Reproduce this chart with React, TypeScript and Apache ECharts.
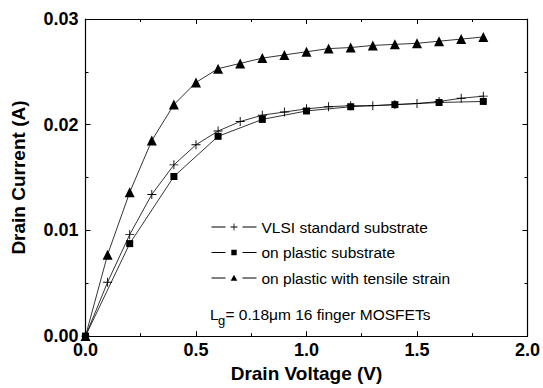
import React, { useEffect, useRef } from "react";
import * as echarts from "echarts";

const vlsiX = [0, 0.1, 0.2, 0.3, 0.4, 0.5, 0.6, 0.7, 0.8, 0.9, 1.0, 1.1, 1.2, 1.3, 1.4, 1.5, 1.6, 1.7, 1.8];
const vlsiY = [0, 0.0051, 0.0096, 0.0134, 0.0162, 0.0181, 0.0194, 0.0203, 0.0209, 0.0212, 0.0215, 0.0217, 0.0218, 0.0218, 0.0219, 0.022, 0.0222, 0.0225, 0.0227];

const plasticX = [0, 0.2, 0.4, 0.6, 0.8, 1.0, 1.2, 1.4, 1.6, 1.8];
const plasticY = [0, 0.00875, 0.0151, 0.0189, 0.0205, 0.0213, 0.0217, 0.0219, 0.0221, 0.0222];

const strainX = [0, 0.1, 0.2, 0.3, 0.4, 0.5, 0.6, 0.7, 0.8, 0.9, 1.0, 1.1, 1.2, 1.3, 1.4, 1.5, 1.6, 1.7, 1.8];
const strainY = [0, 0.0077, 0.0136, 0.0185, 0.0219, 0.024, 0.0253, 0.0258, 0.0263, 0.0266, 0.0269, 0.0272, 0.0273, 0.0275, 0.0276, 0.0277, 0.0279, 0.0281, 0.0283];

const seriesNames = ["VLSI standard substrate", "on plastic substrate", "on plastic with tensile strain"];

const FONT = "'Liberation Sans', Arial, Helvetica, sans-serif";
const PLUS = "path://M4.5,0H5.5V4.5H10V5.5H5.5V10H4.5V5.5H0V4.5H4.5Z";

// legend icons (45 x 10 box): dash, marker, dash
const BOX = "M0,0H0.01V0.01Z M45,10H44.99V9.99Z ";
const DASHES = "M0,4.6H14V5.4H0Z M31,4.6H45V5.4H31Z ";
const legendIcons = [
  "path://" + BOX + DASHES + "M22.1,1.6H22.9V4.6H26V5.4H22.9V8.4H22.1V5.4H19V4.6H22.1Z",
  "path://" + BOX + DASHES + "M19.8,2.3H25.2V7.7H19.8Z",
  "path://" + BOX + DASHES + "M22.5,1.8L25.8,7.8L19.2,7.8Z",
];

const zip = (xs: number[], ys: number[]) => xs.map((x, i) => [x, ys[i]]);

export default function App() {
  const ref = useRef<HTMLDivElement>(null);
  useEffect(() => {
    if (!ref.current) return;
    const chart = echarts.init(ref.current, undefined, { renderer: "svg" });
    const axisCommon = {
      axisLine: { show: true, onZero: false, lineStyle: { color: "#000", width: 1.2 } },
      axisTick: { show: true, inside: true, length: 5, lineStyle: { color: "#000", width: 1 } },
      minorTick: { show: true, splitNumber: 2, length: 3, lineStyle: { color: "#000", width: 1 } },
      splitLine: { show: false },
    };
    chart.setOption({
      animation: false,
      backgroundColor: "#fff",
      grid: { left: 85.5, right: 15.5, top: 19, bottom: 40.5, containLabel: false },
      xAxis: [
        {
          type: "value",
          min: 0,
          max: 2,
          interval: 0.5,
          position: "bottom",
          ...axisCommon,
          axisLabel: {
            color: "#000",
            fontFamily: FONT,
            fontWeight: "bold",
            fontSize: 18,
            margin: 5,
            formatter: (v: number) => v.toFixed(1),
          },
          name: "Drain Voltage (V)",
          nameLocation: "middle",
          nameGap: 19,
          nameTextStyle: { color: "#000", fontFamily: FONT, fontWeight: "bold", fontSize: 19 },
        },
        {
          type: "value",
          min: 0,
          max: 2,
          interval: 0.5,
          position: "top",
          ...axisCommon,
          axisLabel: { show: false },
        },
      ],
      yAxis: [
        {
          type: "value",
          min: 0,
          max: 0.03,
          interval: 0.01,
          position: "left",
          ...axisCommon,
          axisLabel: {
            color: "#000",
            fontFamily: FONT,
            fontWeight: "bold",
            fontSize: 18,
            margin: 7,
            formatter: (v: number) => v.toFixed(2),
          },
          name: "Drain Current (A)",
          nameLocation: "middle",
          nameGap: 58,
          nameTextStyle: { color: "#000", fontFamily: FONT, fontWeight: "bold", fontSize: 19 },
        },
        {
          type: "value",
          min: 0,
          max: 0.03,
          interval: 0.01,
          position: "right",
          ...axisCommon,
          axisLabel: { show: false },
        },
      ],
      legend: {
        orient: "vertical",
        left: 211.5,
        top: 219,
        itemWidth: 45,
        itemHeight: 10,
        itemGap: 9.5,
        padding: 0,
        itemStyle: { borderWidth: 0 },
        textStyle: { color: "#000", fontFamily: FONT, fontSize: 15.5 },
        data: seriesNames.map((n, i) => ({ name: n, icon: legendIcons[i] })),
      },
      series: [
        {
          name: seriesNames[0],
          type: "line",
          data: zip(vlsiX, vlsiY),
          symbol: PLUS,
          symbolSize: 9,
          lineStyle: { color: "#000", width: 0.8 },
          itemStyle: { color: "#000" },
          clip: false,
          z: 3,
        },
        {
          name: seriesNames[1],
          type: "line",
          data: zip(plasticX, plasticY),
          symbol: "rect",
          symbolSize: 7,
          lineStyle: { color: "#000", width: 0.8 },
          itemStyle: { color: "#000" },
          clip: false,
          z: 2,
        },
        {
          name: seriesNames[2],
          type: "line",
          data: zip(strainX, strainY),
          symbol: "triangle",
          symbolSize: 10,
          lineStyle: { color: "#000", width: 0.8 },
          itemStyle: { color: "#000" },
          clip: false,
          z: 2,
        },
      ],
      graphic: [
        {
          type: "text",
          left: 210,
          top: 306,
          style: { text: "L", fill: "#000", font: `15.5px ${FONT}` },
        },
        {
          type: "text",
          left: 218,
          top: 314,
          style: { text: "g", fill: "#000", font: `13px ${FONT}` },
        },
        {
          type: "text",
          left: 225.5,
          top: 306,
          style: { text: "= 0.18μm 16 finger MOSFETs", fill: "#000", font: `15.5px ${FONT}` },
        },
      ],
    });
    return () => chart.dispose();
  }, []);
  return <div ref={ref} style={{ position: "fixed", left: 0, top: 0, width: 543, height: 388 }} />;
}
